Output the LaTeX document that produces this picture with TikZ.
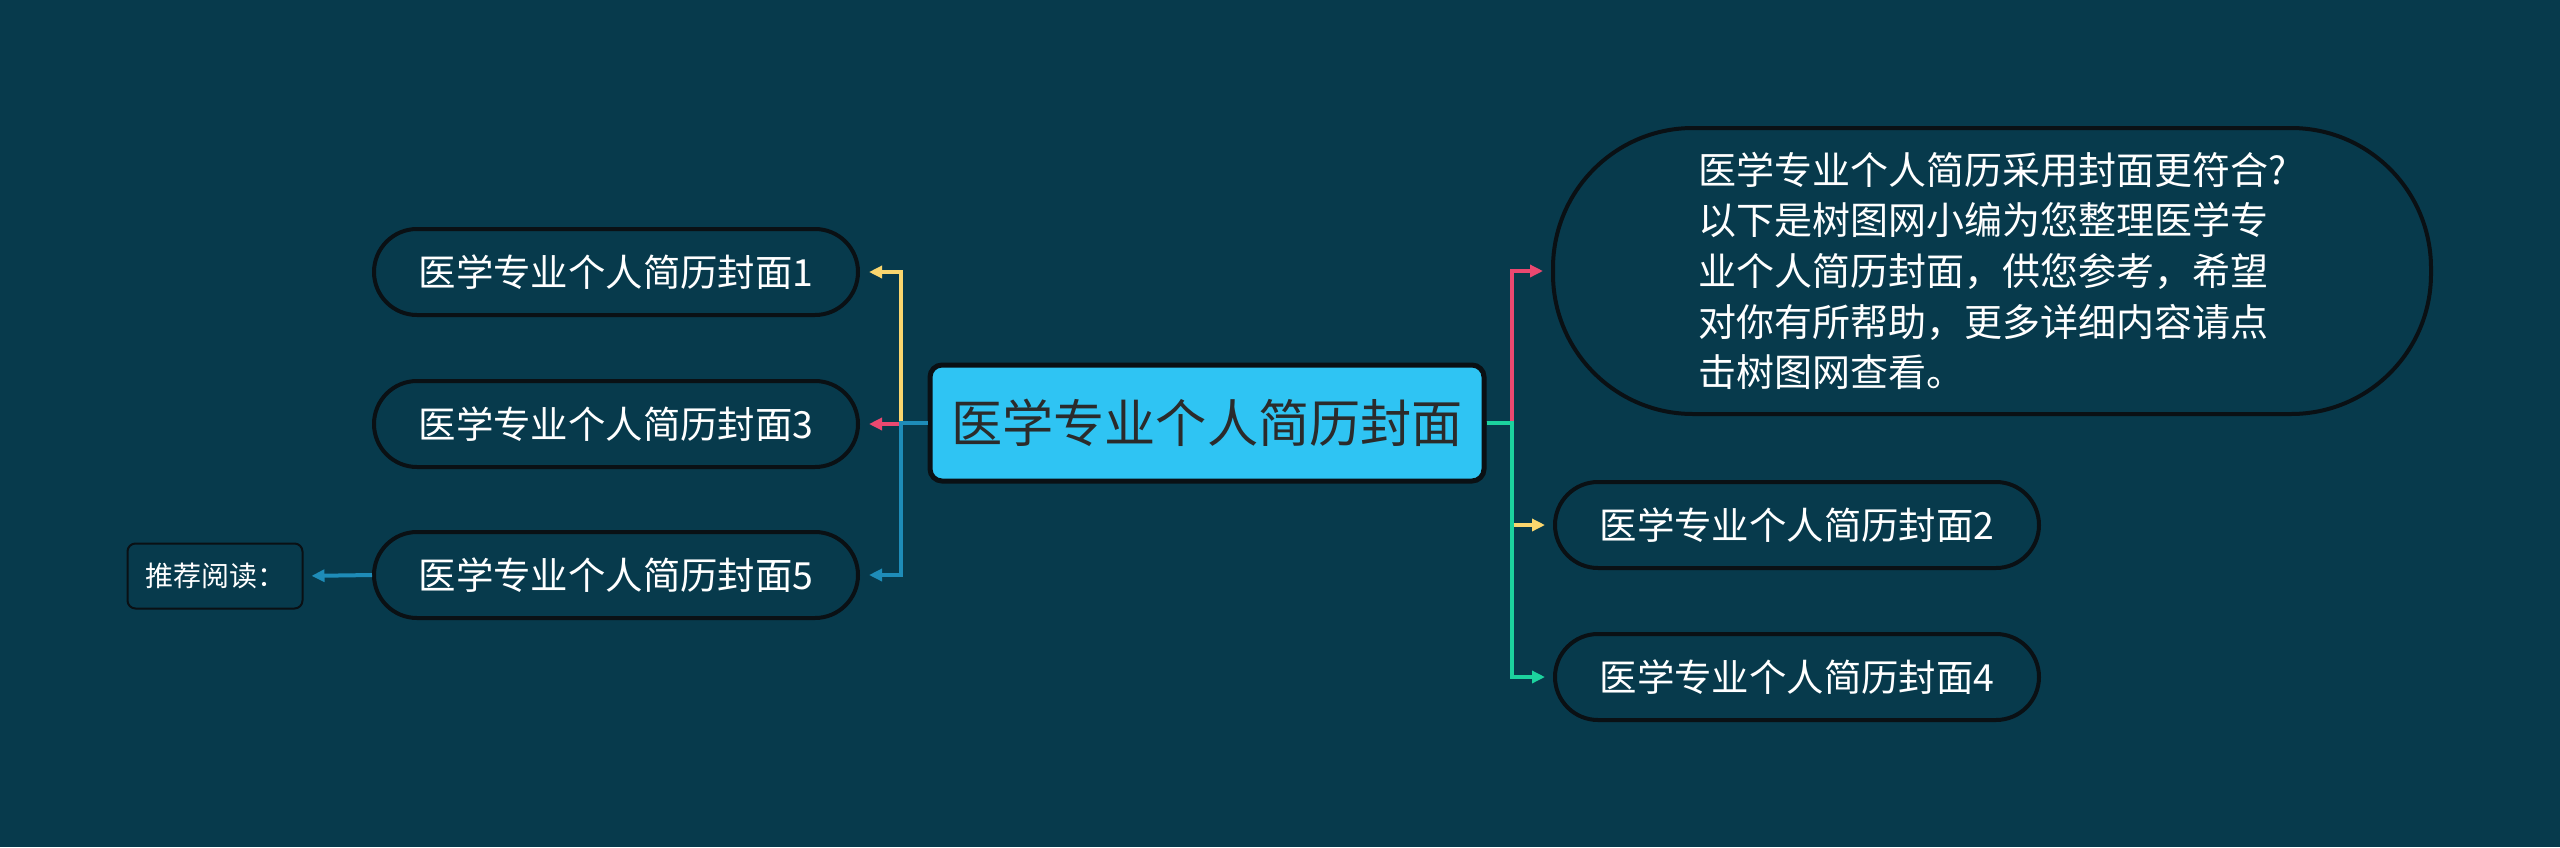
\documentclass[tikz,border=0pt]{standalone}
\usepackage{fontspec}
\setmainfont{Noto Sans CJK SC}
\usetikzlibrary{arrows.meta}

\definecolor{bgteal}{RGB}{7,58,76}
\definecolor{rootblue}{RGB}{47,196,243}
\definecolor{rootink}{RGB}{43,43,43}
\definecolor{edgeink}{RGB}{10,16,20}
\definecolor{lnyellow}{RGB}{250,214,110}
\definecolor{lnpink}{RGB}{234,72,112}
\definecolor{lnblue}{RGB}{30,140,184}
\definecolor{lngreen}{RGB}{28,210,158}

\tikzset{every picture/.style={line width=0.75pt}}
\tikzset{
  roottopic/.style={draw=edgeink, fill=rootblue, line width=2.5pt, rounded corners=6pt,
    minimum width=277pt, minimum height=58pt, inner sep=0pt, text=rootink,
    font=\fontsize{25.6}{30}\selectfont},
  subtopic/.style={draw=edgeink, fill=bgteal, line width=2pt, rounded corners=21.5pt,
    minimum width=242pt, minimum height=43pt, inner sep=0pt, text=white,
    font=\fontsize{18.7}{22}\selectfont},
  notetopic/.style={draw=edgeink, fill=bgteal, line width=2pt, rounded corners=70pt,
    minimum width=439pt, minimum height=143pt, inner sep=0pt, text=white, align=left,
    font=\fontsize{19}{25.3}\selectfont},
  readbox/.style={draw=edgeink, fill=bgteal, line width=1pt, rounded corners=4pt,
    minimum width=87.5pt, minimum height=32.5pt, inner sep=0pt, text=white,
    font=\fontsize{14}{16}\selectfont},
  link/.style={line width=2pt, -{Triangle[length=6.5pt,width=6pt]}, shorten >=4.5pt}
}

\begin{document}
\begin{tikzpicture}[x=0.5pt,y=0.5pt,yscale=-1,xscale=1]
    % background, 2560 x 847
    \fill[bgteal] (0,0) rectangle (2560,847);
    \useasboundingbox (0,0) rectangle (2560,847);

    % Root Node
    \node [roottopic] (root) at (1207,423) {医学专业个人简历封面};

    % Left Nodes
    \node [subtopic] (t1) at (616,272) {医学专业个人简历封面1};
    \node [subtopic] (t3) at (616,424) {医学专业个人简历封面3};
    \node [subtopic] (t5) at (616,575) {医学专业个人简历封面5};
    \node [readbox] (read) at (215,576) {推荐阅读：};

    % Right Nodes
    \node [notetopic] (note) at (1992,271) {医学专业个人简历采用封面更符合?\\以下是树图网小编为您整理医学专\\业个人简历封面，供您参考，希望\\对你有所帮助，更多详细内容请点\\击树图网查看。};
    \node [subtopic] (t2) at (1797,525) {医学专业个人简历封面2};
    \node [subtopic] (t4) at (1797,677) {医学专业个人简历封面4};

    %Straight Lines, left side
    \draw [link, lnyellow] (root.west) -- ++(-27,0) |- (t1.east);
    \draw [link, lnpink] (root.west) -- ++(-27,0) |- (t3.east);
    \draw [link, lnblue] (root.west) -- ++(-27,0) |- (t5.east);
    \draw [link, lnblue, shorten >=4pt] (t5.west) -- (read.east);

    %Straight Lines, right side
    \draw [link, lnpink, shorten >=4pt] (root.east) -- ++(25,0) |- (note.west);
    \draw [link, lnyellow, shorten >=4pt] (root.east) -- ++(25,0) |- (t2.west);
    \draw [link, lngreen, shorten >=4pt] (root.east) -- ++(25,0) |- (t4.west);
\end{tikzpicture}
\end{document}
